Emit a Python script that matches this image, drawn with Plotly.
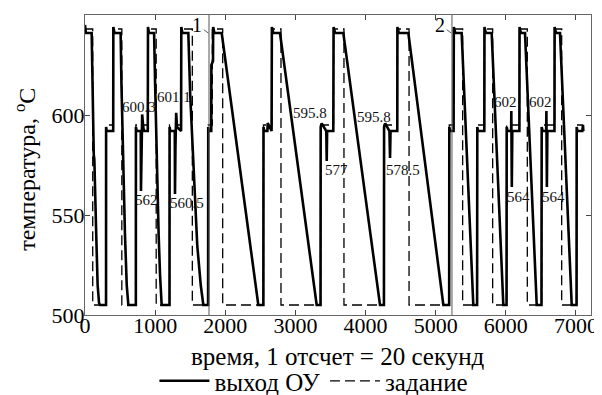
import plotly.graph_objects as go

# ---- data ----
# output of the controlled object (solid line): time sample, temperature
out_t = [0, 12, 95, 105, 112, 125, 133, 150, 158, 180, 200, 214, 300, 301, 310, 402, 404, 420, 508,
         520, 535, 550, 570, 595, 618, 725, 726, 737, 795, 798, 803, 815, 830, 840, 895, 898, 912, 985,
         1000, 1015, 1030, 1050, 1070, 1093, 1205, 1206, 1215, 1280, 1283, 1290, 1300, 1312, 1370, 1373, 1388, 1473,
         1500, 1530, 1560, 1600, 1650, 1687, 1755, 1757, 1765, 1800, 1802, 1825, 1827, 1845, 1949,
         2471, 2543, 2545, 2555, 2600, 2605, 2660, 2664, 2685, 2780,
         3303, 3358, 3360, 3375, 3440, 3446, 3452, 3540, 3544, 3565, 3683,
         4206, 4262, 4264, 4280, 4340, 4349, 4356, 4452, 4454, 4475, 4610,
         5109, 5192, 5194, 5205, 5255, 5258, 5280, 5370,
         5536, 5590, 5593, 5605, 5693, 5695, 5715, 5798,
         5964, 6010, 6012, 6025, 6075, 6078, 6085, 6092, 6193, 6195, 6215, 6273,
         6440, 6508, 6511, 6525, 6575, 6578, 6585, 6592, 6693, 6695, 6715, 6772,
         6939, 7008, 7010, 7020, 7090, 7100, 7105]
out_y = [645, 641, 641, 615, 612, 580, 578, 545, 543, 515, 506, 505, 505, 594, 592, 592, 644, 641, 641,
         615, 590, 565, 540, 515, 505, 505, 594, 592, 592, 562, 590, 600.3, 594, 592, 592, 644, 641, 641,
         615, 590, 565, 540, 520, 505, 505, 594, 592, 592, 560.5, 585, 601.1, 594, 592, 644, 641, 641,
         610, 585, 560, 535, 515, 505, 505, 594, 592, 592, 625, 627, 644, 641, 641,
         505, 505, 594, 592, 592, 596, 592, 644, 641, 641,
         505, 505, 594, 595.8, 592, 577, 592, 592, 644, 641, 641,
         505, 505, 594, 595.8, 592, 578.5, 592, 592, 644, 641, 641,
         505, 505, 594, 592, 592, 644, 641, 641,
         505, 505, 594, 592, 592, 644, 641, 641,
         505, 505, 594, 592, 592, 602, 564, 592, 592, 644, 641, 641,
         505, 505, 594, 592, 592, 602, 564, 592, 592, 644, 641, 641,
         505, 505, 594, 592, 592, 595, 592]

# set-point (dashed line)
set_t = [0, 110, 110, 300, 300, 404, 404, 525, 525, 725, 725, 898, 898, 1015, 1015, 1205, 1205, 1373, 1373,
         1530, 1530, 1756, 1756, 1815, 1815, 1963, 1963, 2544, 2544, 2664, 2664, 2794, 2794, 3359, 3359,
         3544, 3544, 3692, 3692, 4263, 4263, 4454, 4454, 4620, 4620, 5193, 5193, 5258, 5258, 5384, 5384,
         5591, 5591, 5695, 5695, 5812, 5812, 6011, 6011, 6195, 6195, 6306, 6306, 6510, 6510, 6695, 6695,
         6796, 6796, 7009, 7009, 7105]
set_y = [643, 643, 505, 505, 595, 595, 643, 643, 505, 505, 595, 595, 643, 643, 505, 505, 595, 595, 643,
         643, 505, 505, 595, 595, 643, 643, 505, 505, 595, 595, 643, 643, 505, 505, 595,
         595, 643, 643, 505, 505, 595, 595, 643, 643, 505, 505, 595, 595, 643, 643, 505,
         505, 595, 595, 643, 643, 505, 505, 595, 595, 643, 643, 505, 505, 595, 595, 643,
         643, 505, 505, 595, 595]

# regime boundaries and their labels
bound_t = [1768, 5232]
bound_labels = ["1", "2"]

# value labels
val_text = ["600.3", "601.1", "562", "560.5", "595.8", "577", "595.8", "578.5", "602", "602", "564", "564"]
val_t = [770, 1270, 877, 1450, 3208, 3588, 4127, 4527, 5988, 6487, 6178, 6677]
val_y = [604, 609, 557.5, 556, 601, 572.5, 599, 572.5, 606.7, 606.7, 559, 559]

x_ticks = [0, 1000, 2000, 3000, 4000, 5000, 6000, 7000]
y_ticks = [500, 550, 600, 650]
x_title = "время, 1 отсчет = 20 секунд"
y_title = "температура, <sup>o</sup>C"

FONT = "Liberation Serif, Times New Roman, serif"

fig = go.Figure()
fig.add_trace(go.Scatter(x=set_t, y=set_y, mode="lines", name="задание", legendrank=2,
                         line=dict(color="black", width=1.3, dash="10px,5px")))
fig.add_trace(go.Scatter(x=out_t, y=out_y, mode="lines", name="выход ОУ", legendrank=1,
                         line=dict(color="black", width=2.6)))

for t in bound_t:
    fig.add_shape(type="line", xref="x", yref="paper", x0=t, x1=t, y0=0, y1=1,
                  line=dict(color="#555555", width=1))

for lab, t in zip(bound_labels, bound_t):
    fig.add_annotation(x=t - 10, y=641, text=lab, showarrow=True, arrowhead=0, arrowwidth=0.8,
                       arrowcolor="#333333", ax=-11, ay=-8, standoff=0,
                       font=dict(family=FONT, size=20, color="black"))

for txt, t, y in zip(val_text, val_t, val_y):
    fig.add_annotation(x=t, y=y, text=txt, showarrow=False, xanchor="center", yanchor="middle",
                       font=dict(family=FONT, size=15, color="#111111"))

# axis titles
fig.add_annotation(xref="paper", yref="paper", x=0.5, y=-0.137, text=x_title, showarrow=False,
                   xanchor="center", yanchor="middle", font=dict(family=FONT, size=25, color="black"))
fig.add_annotation(xref="paper", yref="paper", x=-0.12, y=0.485, text=y_title, showarrow=False,
                   textangle=-90, xanchor="center", yanchor="middle",
                   font=dict(family=FONT, size=24, color="black"))

fig.update_layout(
    width=594, height=387,
    margin=dict(l=77, r=11, t=7, b=80, autoexpand=False),
    paper_bgcolor="white", plot_bgcolor="white",
    font=dict(family=FONT, size=21, color="black"),
    showlegend=True,
    legend=dict(orientation="h", xref="container", yref="container",
                x=0.515, xanchor="center", y=0.036, yanchor="middle",
                font=dict(family=FONT, size=25), bgcolor="rgba(0,0,0,0)", itemwidth=50,
                tracegroupgap=0),
    xaxis=dict(range=[0, 7214], tickvals=x_ticks, ticks="inside", ticklen=5, mirror="ticks",
               showline=True, linecolor="#666666", linewidth=1, showgrid=False, zeroline=False,
               automargin=False, ticklabelstandoff=-9, tickfont=dict(size=22)),
    yaxis=dict(range=[500, 650], tickvals=y_ticks, ticks="inside", ticklen=5, mirror="ticks",
               showline=True, linecolor="#666666", linewidth=1, showgrid=False, zeroline=False,
               automargin=False, ticklabelstandoff=-5, tickfont=dict(size=22)),
)

fig.write_html("out.html")
